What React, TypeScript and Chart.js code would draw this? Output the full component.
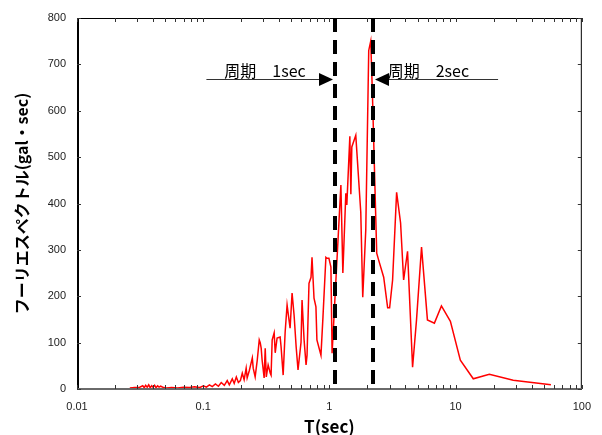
import React, { useEffect, useRef } from 'react';
import { Chart, registerables } from 'chart.js';

Chart.register(...registerables);

// Period (sec) of each sample
const periods: number[] = [
  0.0262, 0.0287, 0.0314, 0.0332, 0.0341, 0.035, 0.036, 0.037, 0.038, 0.0391,
  0.04, 0.0412, 0.0423, 0.0435, 0.0447, 0.046, 0.0486, 0.0513, 0.0562, 0.0627,
  0.0698, 0.0779, 0.0853, 0.0933, 0.1004, 0.106, 0.112, 0.118, 0.125, 0.132,
  0.139, 0.147, 0.155, 0.161, 0.17, 0.176, 0.183, 0.19, 0.197, 0.204,
  0.211, 0.219, 0.223, 0.232, 0.245, 0.249, 0.258, 0.268, 0.278, 0.283,
  0.288, 0.293, 0.304, 0.31, 0.316, 0.327, 0.34, 0.345, 0.352, 0.365,
  0.372, 0.385, 0.407, 0.414, 0.43, 0.446, 0.462, 0.488, 0.506, 0.525,
  0.545, 0.564, 0.596, 0.607, 0.63, 0.653, 0.665, 0.689, 0.715, 0.728,
  0.755, 0.782, 0.796, 0.857, 0.889, 0.938, 0.955, 0.991, 1.028, 1.05,
  1.233, 1.278, 1.349, 1.374, 1.452, 1.479, 1.505, 1.618, 1.772, 1.837,
  1.941, 2.049, 2.125, 2.19, 2.371, 2.456, 2.692, 2.894, 3.0, 3.167,
  3.408, 3.664, 3.873, 4.16, 4.56, 4.9, 5.37, 5.98, 6.79, 7.72,
  9.09, 10.9, 13.8, 18.5, 28.6, 56.9,
];

// Fourier spectrum amplitude (gal·sec)
const amplitudes: number[] = [
  2, 3, 4, 7, 3, 8, 4, 9, 3, 7,
  4, 8, 3, 7, 4, 6, 3, 2, 3, 2,
  4, 3, 5, 3, 7, 4, 9, 5, 11, 6,
  14, 8, 18, 9, 22, 12, 26, 14, 18, 34,
  20, 45, 24, 40, 67, 45, 26, 62, 106, 100,
  88, 62, 24, 88, 26, 52, 34, 30, 106, 121,
  78, 110, 112, 91, 30, 123, 181, 131, 207, 159,
  91, 41, 101, 192, 106, 52, 73, 228, 241, 284,
  196, 177, 106, 73, 155, 284, 282, 282, 263, 77,
  440, 250, 422, 397, 545, 420, 522, 547, 381, 198,
  343, 730, 750, 640, 293, 278, 241, 175, 175, 235,
  424, 358, 235, 297, 47, 149, 306, 149, 142, 179,
  146, 62, 22, 32, 19, 9,
];

const xTickValues: number[] = [0.01, 0.1, 1, 10, 100];
const yTickMin = 0;
const yTickMax = 800;
const yTickStep = 100;

const markerPeriods: number[] = [1.115, 2.223];
const markerLabels: string[] = ['周期　1sec', '周期　2sec'];
const xTitle = 'T(sec)';
const yTitle = 'フーリエスペクトル(gal・sec)';

// annotation anchors in data coordinates
const arrowLevel = 668;
const leftArrowStart = 0.106;
const rightArrowEnd = 21.7;
const leftLabelStart = 0.147;
const rightLabelStart = 2.894;

const overlayPlugin = {
  id: 'overlay',
  afterDatasetsDraw(chart: any) {
    const { ctx, chartArea } = chart;
    const { left, right, top, bottom } = chartArea;
    const xs = chart.scales.x;
    const ys = chart.scales.y;
    ctx.save();

    // dashed vertical markers
    ctx.strokeStyle = '#000';
    ctx.lineWidth = 4;
    ctx.setLineDash([14, 8]);
    const markerPx = markerPeriods.map((p) => Math.round(xs.getPixelForValue(p)));
    for (const px of markerPx) {
      ctx.beginPath();
      ctx.moveTo(px, top);
      ctx.lineTo(px, bottom);
      ctx.stroke();
    }
    ctx.setLineDash([]);

    // frame
    ctx.lineWidth = 1;
    ctx.strokeStyle = '#000';
    ctx.beginPath();
    ctx.moveTo(left, top + 0.5);
    ctx.lineTo(right, top + 0.5);
    ctx.moveTo(right - 0.5, top);
    ctx.lineTo(right - 0.5, bottom);
    ctx.stroke();
    ctx.lineWidth = 2;
    ctx.beginPath();
    ctx.moveTo(left + 1, top);
    ctx.lineTo(left + 1, bottom);
    ctx.stroke();
    ctx.strokeStyle = '#6a6a6a';
    ctx.beginPath();
    ctx.moveTo(left, bottom);
    ctx.lineTo(right, bottom);
    ctx.stroke();

    // inside ticks
    ctx.strokeStyle = '#333';
    ctx.lineWidth = 1;
    ctx.beginPath();
    for (let d = -2; d <= 2; d++) {
      for (let m = 1; m <= 9; m++) {
        const v = m * Math.pow(10, d);
        if (v > 100.0001) break;
        const px = Math.round(xs.getPixelForValue(v)) + 0.5;
        ctx.moveTo(px, bottom);
        ctx.lineTo(px, bottom - 4);
        ctx.moveTo(px, top);
        ctx.lineTo(px, top + 4);
      }
    }
    for (let v = yTickMin; v <= yTickMax; v += yTickStep) {
      const py = Math.round(ys.getPixelForValue(v)) + 0.5;
      ctx.moveTo(left, py);
      ctx.lineTo(left + 4, py);
      ctx.moveTo(right, py);
      ctx.lineTo(right - 4, py);
    }
    ctx.stroke();

    // arrows
    const ay = Math.round(ys.getPixelForValue(arrowLevel)) + 0.5;
    const headLen = 14;
    const headHalf = 6.5;
    ctx.strokeStyle = '#333';
    ctx.fillStyle = '#000';
    ctx.lineWidth = 1;
    const lStart = xs.getPixelForValue(leftArrowStart);
    const lTip = markerPx[0] - 2;
    ctx.beginPath();
    ctx.moveTo(lStart, ay);
    ctx.lineTo(lTip - headLen, ay);
    ctx.stroke();
    ctx.beginPath();
    ctx.moveTo(lTip, ay);
    ctx.lineTo(lTip - headLen, ay - headHalf);
    ctx.lineTo(lTip - headLen, ay + headHalf);
    ctx.closePath();
    ctx.fill();

    const rEnd = xs.getPixelForValue(rightArrowEnd);
    const rTip = markerPx[1] + 2;
    ctx.beginPath();
    ctx.moveTo(rEnd, ay);
    ctx.lineTo(rTip + headLen, ay);
    ctx.stroke();
    ctx.beginPath();
    ctx.moveTo(rTip, ay);
    ctx.lineTo(rTip + headLen, ay - headHalf);
    ctx.lineTo(rTip + headLen, ay + headHalf);
    ctx.closePath();
    ctx.fill();

    // labels
    ctx.font = '16px "Noto Sans CJK JP"';
    ctx.fillStyle = '#000';
    ctx.textBaseline = 'alphabetic';
    ctx.textAlign = 'left';
    ctx.fillText(markerLabels[0], xs.getPixelForValue(leftLabelStart), ay - 3);
    ctx.fillText(markerLabels[1], xs.getPixelForValue(rightLabelStart), ay - 3);

    ctx.restore();
  },
};

export default function App() {
  const canvasRef = useRef<HTMLCanvasElement | null>(null);

  useEffect(() => {
    const canvas = canvasRef.current;
    if (!canvas) return;
    const points = periods.map((t, i) => ({ x: t, y: amplitudes[i] }));
    const chart = new Chart(canvas, {
      type: 'line',
      data: {
        datasets: [
          {
            data: points,
            borderColor: '#ff0000',
            borderWidth: 1.5,
            pointRadius: 0,
            tension: 0,
            fill: false,
          },
        ],
      },
      options: {
        animation: false,
        responsive: false,
        layout: { padding: { top: 18, right: 18, bottom: 0, left: 0 } },
        plugins: {
          legend: { display: false },
          tooltip: { enabled: false },
        },
        scales: {
          x: {
            type: 'logarithmic',
            min: 0.01,
            max: 100,
            grid: { display: false, drawTicks: false },
            border: { display: false },
            afterBuildTicks: (scale: any) => {
              scale.ticks = xTickValues.map((v) => ({ value: v }));
            },
            afterFit: (scale: any) => {
              scale.height = 46;
            },
            ticks: {
              autoSkip: false,
              maxRotation: 0,
              padding: 11,
              color: '#222',
              font: { family: '"Liberation Sans", Arial, sans-serif', size: 11 },
              callback: (v: any) => String(v),
            },
            title: {
              display: true,
              text: xTitle,
              color: '#000',
              font: { family: '"Noto Sans CJK JP"', size: 17, weight: 'bold', lineHeight: 1 },
              padding: { top: 0, bottom: 0 },
            },
          },
          y: {
            type: 'linear',
            min: yTickMin,
            max: yTickMax,
            grid: { display: false, drawTicks: false },
            border: { display: false },
            afterFit: (scale: any) => {
              scale.width = 77;
            },
            ticks: {
              stepSize: yTickStep,
              padding: 11,
              color: '#222',
              font: { family: '"Liberation Sans", Arial, sans-serif', size: 11 },
            },
            title: {
              display: true,
              text: yTitle,
              color: '#000',
              font: { family: '"Noto Sans CJK JP"', size: 16, weight: 'bold', lineHeight: 1 },
              padding: { top: 14, bottom: 0 },
            },
          },
        },
      },
      plugins: [overlayPlugin],
    });
    return () => chart.destroy();
  }, []);

  return (
    <div style={{ position: 'fixed', left: 0, top: 0, width: 602, height: 435, background: '#fff' }}>
      <canvas ref={canvasRef} width={602} height={435} style={{ display: 'block' }} />
    </div>
  );
}
